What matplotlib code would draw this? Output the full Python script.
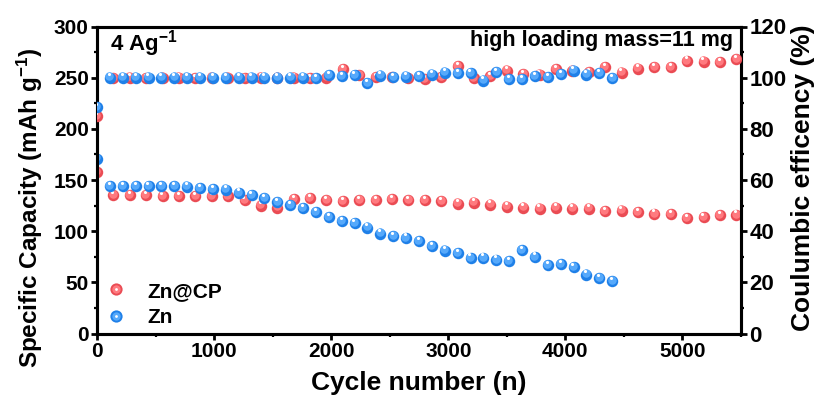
import matplotlib
matplotlib.use("Agg")
import matplotlib.pyplot as plt
from matplotlib.transforms import ScaledTranslation
from matplotlib.lines import Line2D
from matplotlib.legend_handler import HandlerTuple
from matplotlib.ticker import MultipleLocator

# ---- data -------------------------------------------------------------
cycles_cp = [0, 140, 280, 420, 560, 700, 840, 980, 1120, 1260, 1400,
             1540, 1680, 1820, 1960, 2100, 2240, 2380, 2520, 2660, 2800,
             2940, 3080, 3220, 3360, 3500, 3640, 3780, 3920, 4060, 4200,
             4340, 4480, 4620, 4760, 4900, 5040, 5180, 5320, 5460]
cap_cp = [158, 135, 135, 135, 134.5, 134.5, 134, 134, 134, 130.5, 125,
          123, 131.5, 132, 130, 129, 130, 130, 131, 130.5, 130,
          129.5, 127, 128, 126, 124, 123, 122, 123, 122, 122,
          119.5, 120, 118.5, 117, 116.5, 113, 113.5, 115.5, 116]
ce_cp = [85, 99.8, 100, 99.9, 100, 100, 99.8, 100, 100, 99.9, 100,
         100, 100, 99.8, 100, 103.4, 101, 100.1, 100.1, 99.8, 99.4,
         100.1, 104.6, 99.8, 100.7, 102.8, 101.4, 101.2, 103.2, 102.8, 102.2,
         104.2, 102, 103.5, 104.1, 104.2, 106.6, 106.3, 106, 107.2]

cycles_zn = [0, 110, 220, 330, 440, 550, 660, 770, 880, 990, 1100,
             1210, 1320, 1430, 1540, 1650, 1760, 1870, 1980, 2090, 2200,
             2310, 2420, 2530, 2640, 2750, 2860, 2970, 3080, 3190, 3300,
             3410, 3520, 3630, 3740, 3850, 3960, 4070, 4180, 4290, 4400]
cap_zn = [171, 144, 144, 144, 144, 144, 144, 143.5, 142, 141, 140.5,
          137.5, 135, 132.5, 128.5, 125.5, 122.5, 118.5, 114, 109.5, 107.5,
          103.5, 97.5, 95, 93.5, 90, 85.5, 81, 78.5, 74, 74,
          72, 71, 81.5, 75, 67, 68, 64.5, 57.5, 54, 51]
ce_zn = [88.5, 100, 100, 100, 100, 100, 100, 100, 100, 100, 100,
         100, 100, 100, 100, 100, 100, 99.8, 101, 100.5, 101,
         97.8, 100.8, 100.1, 100.4, 100.7, 101.2, 102, 101.7, 101.7, 98.8,
         102.2, 99.4, 99.4, 100.7, 100.1, 101.4, 102.8, 101.2, 101.7, 99.9]

series_labels = ["Zn@CP", "Zn"]
rate_text = r"4 Ag$^{-1}$"
mass_text = "high loading mass=11 mg"

# ---- style ------------------------------------------------------------
plt.rcParams["font.family"] = ["Liberation Sans"]
plt.rcParams["font.weight"] = "bold"
plt.rcParams["mathtext.fontset"] = "custom"
plt.rcParams["mathtext.rm"] = "Liberation Sans:bold"
plt.rcParams["mathtext.bf"] = "Liberation Sans:bold"
plt.rcParams["mathtext.default"] = "bf"

RED = ("#EA4C54", "#FF7A7F")
BLUE = ("#1F80E8", "#56A9FB")

fig = plt.figure(figsize=(8.19, 4.01), dpi=100)
ax = fig.add_axes([97 / 819, 67.5 / 401, 644 / 819, 307 / 401])
ax2 = ax.twinx()

MS = 68


def sphere(a, x, y, colors, z):
    """Draw shaded ball markers: dark base, lighter core, white glint."""
    dark, light = colors
    a.scatter(x, y, s=MS, color=dark, linewidths=0, zorder=z)
    t1 = a.transData + ScaledTranslation(-0.5 / 72, 0.9 / 72, fig.dpi_scale_trans)
    a.scatter(x, y, s=MS * 0.55, color=light, linewidths=0, zorder=z + 0.1,
              transform=t1)
    t2 = a.transData + ScaledTranslation(-0.8 / 72, 2.4 / 72, fig.dpi_scale_trans)
    a.scatter(x, y, s=5, color="white", linewidths=0, zorder=z + 0.2,
              transform=t2)


sphere(ax, cycles_cp, cap_cp, RED, 3)
sphere(ax, cycles_zn, cap_zn, BLUE, 4)
sphere(ax2, cycles_cp, ce_cp, RED, 3)
sphere(ax2, cycles_zn, ce_zn, BLUE, 4)

ax.set_xlim(0, 5500)
ax.set_ylim(0, 300)
ax2.set_ylim(0, 120)

ax.xaxis.set_major_locator(MultipleLocator(1000))
ax.xaxis.set_minor_locator(MultipleLocator(500))
ax.yaxis.set_major_locator(MultipleLocator(50))
ax.yaxis.set_minor_locator(MultipleLocator(25))
ax2.yaxis.set_major_locator(MultipleLocator(20))
ax2.yaxis.set_minor_locator(MultipleLocator(10))

for a in (ax, ax2):
    for s in a.spines.values():
        s.set_linewidth(2.2)
    a.tick_params(which="major", direction="out", length=4.5, width=2.0)
    a.tick_params(which="minor", direction="out", length=2.5, width=1.6)

ax.tick_params(axis="x", which="both", top=False, pad=1.5, labelsize=15)
ax.tick_params(axis="y", which="both", right=False, pad=1.5, labelsize=15)
ax2.tick_params(axis="y", which="both", left=False, right=True, pad=1.5,
                labelsize=16)

ax.set_xlabel("Cycle number (n)", fontsize=19, fontweight="bold")
ax.xaxis.set_label_coords(0.5, -0.123)
ax.set_ylabel(r"Specific Capacity (mAh g$^{-1}$)", fontsize=17.5,
              fontweight="bold")
ax.yaxis.set_label_coords(-0.08, 0.41)
ax2.set_ylabel("Coulumbic efficency (%)", fontsize=19, fontweight="bold")
ax2.yaxis.set_label_coords(1.078, 0.506)

ax.text(0.02, 0.946, rate_text, transform=ax.transAxes, ha="left",
        va="center", fontsize=16, fontweight="bold")
ax.text(0.988, 0.953, mass_text, transform=ax.transAxes, ha="right",
        va="center", fontsize=15.5, fontweight="bold")


# legend with two-tone ball handles
def handle(colors):
    return (Line2D([], [], ls="", marker="o", ms=8.8, mfc=colors[0], mec="none"),
            Line2D([], [], ls="", marker="o", ms=6.0, mfc=colors[1], mec="none"),
            Line2D([], [], ls="", marker="o", ms=2.0, mfc="white", mec="none"))


leg = ax.legend([handle(RED), handle(BLUE)], series_labels,
                handler_map={tuple: HandlerTuple(ndivide=1)},
                loc="center left", bbox_to_anchor=(0.01, 0.095),
                frameon=False, handlelength=1.2, handletextpad=0.9,
                labelspacing=0.35, borderpad=0, borderaxespad=0,
                prop={"weight": "bold", "size": 15})

fig.savefig("out.png", dpi=100)
